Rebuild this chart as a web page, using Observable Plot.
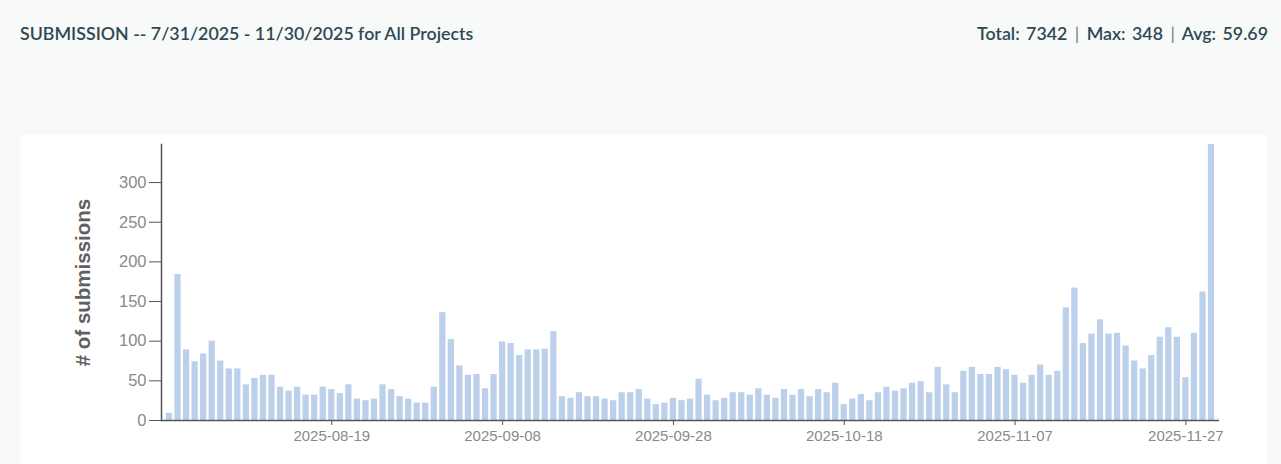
<!DOCTYPE html>
<html>
<head>
<meta charset="utf-8">
<script src="https://cdn.jsdelivr.net/npm/d3@7"></script>
<script src="https://cdn.jsdelivr.net/npm/@observablehq/plot@0.6"></script>
<style>
  html, body { margin: 0; padding: 0; background: #f8f9f9; width: 1281px; height: 464px; overflow: hidden; }
  .hdr { position: absolute; top: 22px; font-family: Lato, "Open Sans", sans-serif; font-weight: 600; font-size: 17.8px; color: #2e4953; white-space: nowrap; }
  #title { left: 20px; }
  #stats { right: 13px; word-spacing: 2px; }
  .sep { font-weight: 400; color: #6d8088; padding: 0 1px; }
  #panel { position: absolute; left: 20px; top: 135px; width: 1247px; height: 329px; background: #ffffff; }
  #panel svg { display: block; }
  g[aria-label="y-axis tick label"], g[aria-label="x-axis tick label"] { fill: #8a8a8a; }
  g[aria-label="y-axis tick"], g[aria-label="x-axis tick"] { stroke: #555; }
  g[aria-label="y-axis label"] text { font-size: 20.5px; font-weight: bold; fill: #606060; }
</style>
</head>
<body>
<div id="title" class="hdr">SUBMISSION -- 7/31/2025 - 11/30/2025 for All Projects</div>
<div id="stats" class="hdr">Total: 7342 <span class="sep">|</span> Max: 348 <span class="sep">|</span> Avg: 59.69</div>
<div id="panel"></div>
<script>
const jul = ["2025-07-31"];
const aug = ["2025-08-01","2025-08-02","2025-08-03","2025-08-04","2025-08-05","2025-08-06","2025-08-07","2025-08-08","2025-08-09","2025-08-10","2025-08-11","2025-08-12","2025-08-13","2025-08-14","2025-08-15","2025-08-16","2025-08-17","2025-08-18","2025-08-19","2025-08-20","2025-08-21","2025-08-22","2025-08-23","2025-08-24","2025-08-25","2025-08-26","2025-08-27","2025-08-28","2025-08-29","2025-08-30","2025-08-31"];
const sep = ["2025-09-01","2025-09-02","2025-09-03","2025-09-04","2025-09-05","2025-09-06","2025-09-07","2025-09-08","2025-09-09","2025-09-10","2025-09-11","2025-09-12","2025-09-13","2025-09-14","2025-09-15","2025-09-16","2025-09-17","2025-09-18","2025-09-19","2025-09-20","2025-09-21","2025-09-22","2025-09-23","2025-09-24","2025-09-25","2025-09-26","2025-09-27","2025-09-28","2025-09-29","2025-09-30"];
const oct = ["2025-10-01","2025-10-02","2025-10-03","2025-10-04","2025-10-05","2025-10-06","2025-10-07","2025-10-08","2025-10-09","2025-10-10","2025-10-11","2025-10-12","2025-10-13","2025-10-14","2025-10-15","2025-10-16","2025-10-17","2025-10-18","2025-10-19","2025-10-20","2025-10-21","2025-10-22","2025-10-23","2025-10-24","2025-10-25","2025-10-26","2025-10-27","2025-10-28","2025-10-29","2025-10-30","2025-10-31"];
const nov = ["2025-11-01","2025-11-02","2025-11-03","2025-11-04","2025-11-05","2025-11-06","2025-11-07","2025-11-08","2025-11-09","2025-11-10","2025-11-11","2025-11-12","2025-11-13","2025-11-14","2025-11-15","2025-11-16","2025-11-17","2025-11-18","2025-11-19","2025-11-20","2025-11-21","2025-11-22","2025-11-23","2025-11-24","2025-11-25","2025-11-26","2025-11-27","2025-11-28","2025-11-29","2025-11-30"];

const julCounts = [9];
const augCounts = [184,89,74,84,100,75,65,65,45,53,57,57,42,37,42,32,32,42,39,34,45,27,25,27,45,39,30,27,22,22,42];
const sepCounts = [136,102,69,57,58,40,58,99,97,82,89,89,90,112,30,28,35,30,30,27,25,35,35,39,27,20,22,28,25,27];
const octCounts = [52,32,25,28,35,35,32,40,32,28,39,32,39,30,39,35,47,20,27,33,25,35,42,37,40,47,49,35,67,45,35];
const novCounts = [62,67,58,58,67,64,57,47,57,70,57,62,142,167,97,109,127,109,110,94,75,65,82,105,117,105,54,110,162,348];

const xTicks = ["2025-08-19","2025-09-08","2025-09-28","2025-10-18","2025-11-07","2025-11-27"];
const yTicks = [0,50,100,150,200,250,300];

const days = [...jul, ...aug, ...sep, ...oct, ...nov];
const counts = [...julCounts, ...augCounts, ...sepCounts, ...octCounts, ...novCounts];
const rows = days.map((d, i) => ({date: d, count: counts[i]}));

const chart = Plot.plot({
  width: 1247,
  height: 330,
  marginLeft: 141,
  marginRight: 48,
  marginTop: 9,
  marginBottom: 45,
  style: {background: "transparent", fontFamily: "'Liberation Sans', Arial, sans-serif"},
  x: {type: "band", domain: days, paddingInner: 0.27, paddingOuter: 0.57},
  y: {domain: [0, 348]},
  marks: [
    Plot.barY(rows, {x: "date", y: "count", fill: "#bcd0ec"}),
    Plot.ruleY([0], {stroke: "#555", strokeWidth: 1.5}),
    Plot.frame({anchor: "left", stroke: "#555", strokeWidth: 1.5}),
    Plot.axisX({ticks: xTicks, tickSize: 5, tickPadding: 5, fontSize: 15, label: null}),
    Plot.axisY({ticks: yTicks, tickSize: 12, tickPadding: 3, fontSize: 16.5, label: "# of submissions", labelArrow: false, labelAnchor: "center", labelOffset: 86})
  ]
});
document.getElementById("panel").appendChild(chart);
</script>
</body>
</html>
